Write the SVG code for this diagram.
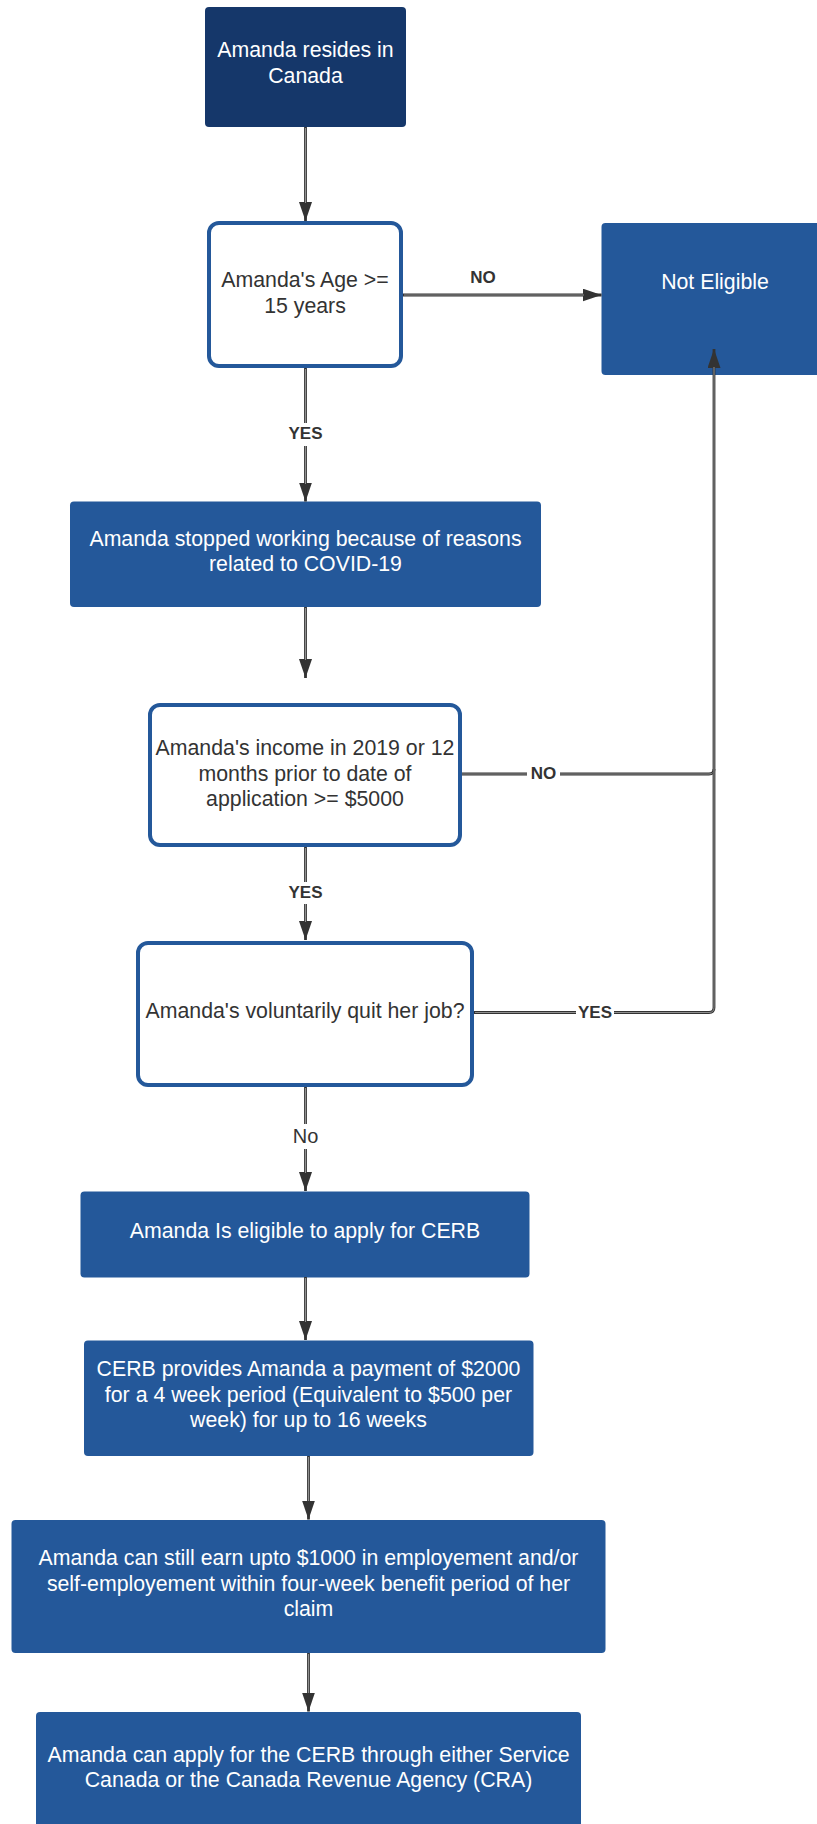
<svg xmlns="http://www.w3.org/2000/svg" width="817" height="1824" viewBox="0 0 817 1824">
<style>
.dark{fill:#15376a}
.blue{fill:#24589a}
.dec{fill:#ffffff;stroke:#24589a;stroke-width:4}
.t{font-family:"Liberation Sans",Arial,sans-serif;font-size:21.3px;text-anchor:middle}
.w{fill:#ffffff}
.k{fill:#333333}
.lbl{font-family:"Liberation Sans",Arial,sans-serif;font-size:17px;font-weight:bold;fill:#333333;text-anchor:middle}
.lbn{font-family:"Liberation Sans",Arial,sans-serif;font-size:20px;fill:#333333;text-anchor:middle}
.ln{fill:none;stroke:#333333;stroke-width:2.8}
.lh{fill:none;stroke:#9a9a9a;stroke-width:0.9}
</style>
<defs>
<marker id="ah" markerUnits="userSpaceOnUse" markerWidth="19" markerHeight="13" refX="19" refY="6.5" orient="auto">
<path d="M0,0 L19,6.5 L0,13 z" fill="#333333"/>
</marker>
</defs>
<rect width="817" height="1824" fill="#ffffff"/>
<g id="node1">
<rect class="dark" x="205" y="7" width="201" height="120" rx="4"/>
<text class="t w" x="305.5" y="57">Amanda resides in</text>
<text class="t w" x="305.5" y="83">Canada</text>
</g>
<g id="node2">
<rect class="dec" x="209" y="223" width="192" height="143" rx="10"/>
<text class="t k" x="305" y="287">Amanda's Age &gt;=</text>
<text class="t k" x="305" y="313">15 years</text>
</g>
<g id="node_not_eligible">
<rect class="blue" x="601.5" y="223" width="240" height="152" rx="4"/>
<text class="t w" x="715" y="289">Not Eligible</text>
</g>
<g id="node3">
<rect class="blue" x="70" y="501.5" width="471" height="105.5" rx="4"/>
<text class="t w" x="305.5" y="545.5">Amanda stopped working because of reasons</text>
<text class="t w" x="305.5" y="571">related to COVID-19</text>
</g>
<g id="node4">
<rect class="dec" x="150" y="705" width="310" height="140" rx="10"/>
<text class="t k" x="305" y="755">Amanda's income in 2019 or 12</text>
<text class="t k" x="305" y="780.5">months prior to date of</text>
<text class="t k" x="305" y="806">application &gt;= $5000</text>
</g>
<g id="node5">
<rect class="dec" x="138" y="943" width="334" height="142" rx="10"/>
<text class="t k" x="305" y="1018">Amanda's voluntarily quit her job?</text>
</g>
<g id="node6">
<rect class="blue" x="80.5" y="1191.5" width="449" height="86" rx="4"/>
<text class="t w" x="305" y="1238">Amanda Is eligible to apply for CERB</text>
</g>
<g id="node7">
<rect class="blue" x="84" y="1340.5" width="449.5" height="115.5" rx="4"/>
<text class="t w" x="308.5" y="1376">CERB provides Amanda a payment of $2000</text>
<text class="t w" x="308.5" y="1401.5">for a 4 week period (Equivalent to $500 per</text>
<text class="t w" x="308.5" y="1427">week) for up to 16 weeks</text>
</g>
<g id="node8">
<rect class="blue" x="11.5" y="1520" width="594" height="133" rx="4"/>
<text class="t w" x="308.5" y="1565">Amanda can still earn upto $1000 in employement and/or</text>
<text class="t w" x="308.5" y="1590.5">self-employement within four-week benefit  period of her</text>
<text class="t w" x="308.5" y="1616">claim</text>
</g>
<g id="node9">
<rect class="blue" x="36" y="1712" width="545" height="130" rx="4"/>
<text class="t w" x="308.5" y="1761.5">Amanda can apply for the CERB through either Service</text>
<text class="t w" x="308.5" y="1787">Canada or the Canada Revenue Agency (CRA)</text>
</g>
<g id="connectors">
<path class="ln" d="M305.5,127 V221" marker-end="url(#ah)"/>
<path class="lh" d="M305.5,128 V203"/>
<path class="ln" d="M403,295 H601.5" marker-end="url(#ah)"/>
<path class="lh" d="M404,295 H584"/>
<path class="ln" d="M305.5,368 V501.5" marker-end="url(#ah)"/>
<path class="lh" d="M305.5,369 V484"/>
<path class="ln" d="M305.5,607 V678" marker-end="url(#ah)"/>
<path class="lh" d="M305.5,608 V660"/>
<path class="ln" d="M462,774 H709 Q714,774 714,769"/>
<path class="lh" d="M462,774 H709 Q714,774 714,769"/>
<path class="ln" d="M474,1012.5 H709 Q714,1012.5 714,1007.5 V349" marker-end="url(#ah)"/>
<path class="lh" d="M475,1012.5 H709 Q714,1012.5 714,1007.5 V367"/>
<path class="ln" d="M305.5,847 V940" marker-end="url(#ah)"/>
<path class="lh" d="M305.5,848 V922"/>
<path class="ln" d="M305.5,1087 V1191" marker-end="url(#ah)"/>
<path class="lh" d="M305.5,1088 V1173"/>
<path class="ln" d="M305.5,1277 V1340" marker-end="url(#ah)"/>
<path class="lh" d="M305.5,1278 V1322"/>
<path class="ln" d="M308.5,1456 V1519.5" marker-end="url(#ah)"/>
<path class="lh" d="M308.5,1457 V1501"/>
<path class="ln" d="M308.5,1653 V1711.5" marker-end="url(#ah)"/>
<path class="lh" d="M308.5,1654 V1693"/>
<text class="lbl" x="483" y="283">NO</text>
<rect x="286" y="423" width="39" height="23" fill="#ffffff"/>
<text class="lbl" x="305.5" y="439">YES</text>
<rect x="527" y="764" width="33" height="19" fill="#ffffff"/>
<text class="lbl" x="543.5" y="779">NO</text>
<rect x="286" y="882" width="39" height="22" fill="#ffffff"/>
<text class="lbl" x="305.5" y="898">YES</text>
<rect x="576" y="1002" width="38" height="20" fill="#ffffff"/>
<text class="lbl" x="595" y="1017.5">YES</text>
<rect x="290" y="1124" width="31" height="25" fill="#ffffff"/>
<text class="lbn" x="305.5" y="1143">No</text>
</g>
</svg>
